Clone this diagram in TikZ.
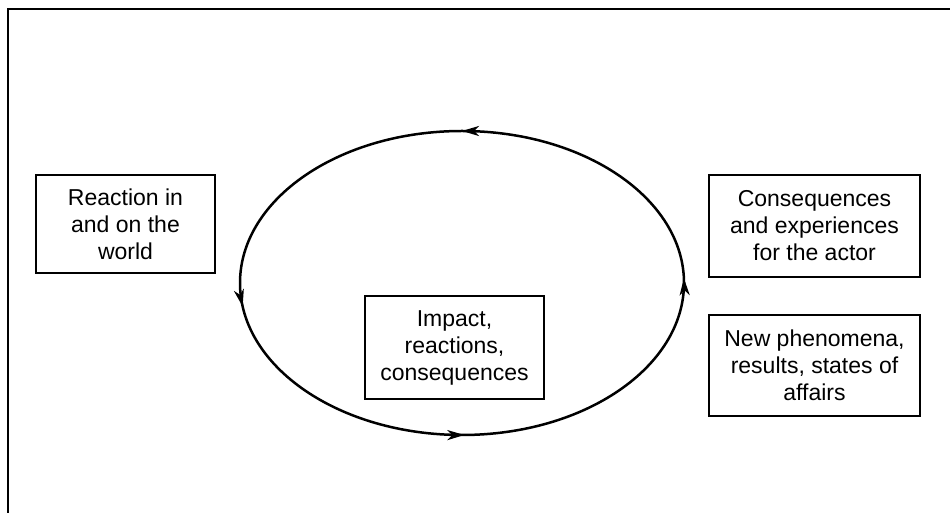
\documentclass[tikz,border=0pt]{standalone}
\usepackage{fontspec}
\setmainfont{Liberation Sans}
\usetikzlibrary{arrows.meta,decorations.markings}
\tikzset{
  box/.style={draw=black, line width=2pt, inner sep=0pt, align=center,
    font=\fontsize{23}{27}\selectfont},
  cyctip/.tip={Stealth[length=17pt,width=10pt,inset=5pt]},
  cyc/.style={line width=2.5pt, postaction={decorate}, decoration={markings,
    mark=at position 0.004 with {\arrow{cyctip}},
    mark=at position 0.25 with {\arrow{cyctip}},
    mark=at position 0.52 with {\arrow{cyctip}},
    mark=at position 0.752 with {\arrow{cyctip}}}}
}
\begin{document}
\begin{tikzpicture}[x=1pt,y=1pt]
\useasboundingbox (0,0) rectangle (950,513);
% outer frame (cut off at right and bottom)
\coordinate (fbl) at (8,-5);
\coordinate (ftl) at (8,504);
\coordinate (ftr) at (955,504);
\draw[line width=2.4pt] (fbl) -- (ftl) -- (ftr);
% cycle
\coordinate (c) at (462,230);
\draw[cyc] (c) ellipse [x radius=222, y radius=152];
% boxes
\node[box, minimum width=179pt, minimum height=98pt] (react) at (125.5,289) {Reaction in\\and on the\\world};
\node[box, minimum width=211pt, minimum height=102pt] (cons) at (814.5,287) {Consequences\\and experiences\\for the actor};
\node[box, minimum width=211pt, minimum height=101pt] (newph) at (814.5,147.5) {New phenomena,\\results, states of\\affairs};
\node[box, minimum width=179pt, minimum height=103pt] (impact) at (454.5,165.5) {Impact,\\reactions,\\consequences};
\end{tikzpicture}
\end{document}
